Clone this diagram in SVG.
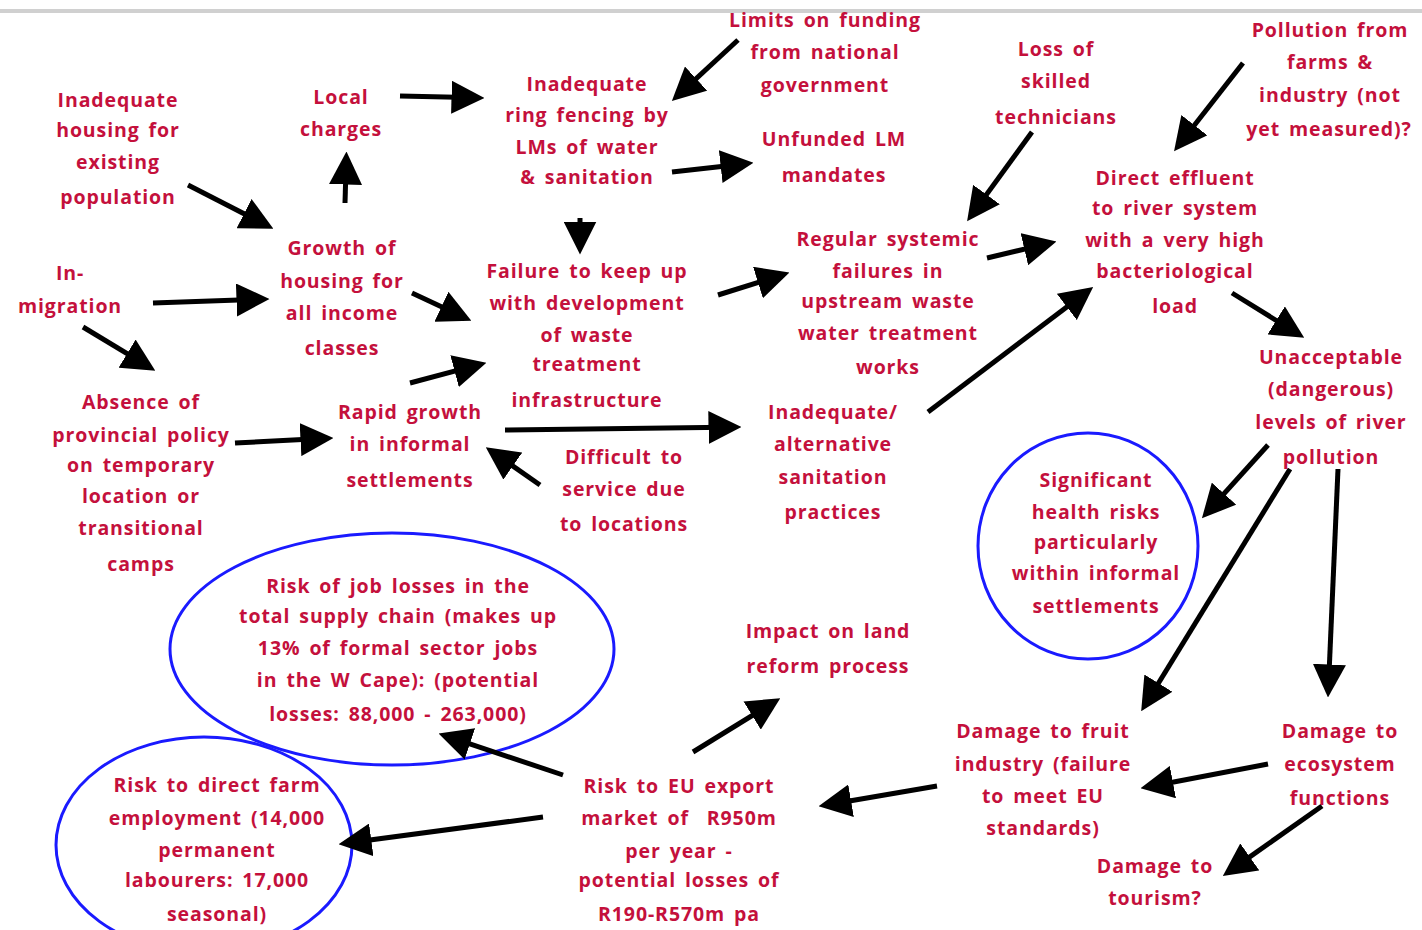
<svg xmlns="http://www.w3.org/2000/svg" width="1422" height="930" viewBox="0 0 1422 930">
<defs>
<style>
text{font-family:"Open Sans","DejaVu Sans",sans-serif;font-size:19.5px;font-weight:700;fill:#c4103c;text-anchor:middle;letter-spacing:0.9px;word-spacing:3px}
.c line{stroke:#000;stroke-width:5;marker-end:url(#ah)}
.ring{fill:none;stroke:#1a1aff;stroke-width:3}
</style>
<marker id="ah" viewBox="0 0 10 10" refX="5" refY="5" markerWidth="6.6" markerHeight="6.6" markerUnits="strokeWidth" orient="auto">
<path d="M0,0 L10,5 L0,10 z" fill="#000"/>
</marker>
</defs>
<rect width="1422" height="930" fill="#fff"/>
<line x1="0" y1="11" x2="1422" y2="11" stroke="#d0d0d0" stroke-width="4"/>

<g id="ellipses">
<ellipse class="ring" cx="1088" cy="546" rx="110" ry="113"/>
<ellipse class="ring" cx="392" cy="649" rx="222" ry="116"/>
<ellipse class="ring" cx="204" cy="845" rx="148" ry="108"/>
</g>

<g class="c" id="connectors">
<line x1="188" y1="185" x2="258.7" y2="221.2"/>
<line x1="345" y1="203" x2="346" y2="168"/>
<line x1="400" y1="96" x2="468" y2="97.6"/>
<line x1="153" y1="303" x2="253" y2="299.5"/>
<line x1="83" y1="327" x2="141.2" y2="362.2"/>
<line x1="412" y1="293" x2="456.4" y2="313.7"/>
<line x1="410" y1="383" x2="470.5" y2="366.9"/>
<line x1="738" y1="40" x2="684" y2="89.8"/>
<line x1="672" y1="172" x2="737.1" y2="164.7"/>
<line x1="580" y1="218" x2="580" y2="238"/>
<line x1="718" y1="295" x2="773.7" y2="277.5"/>
<line x1="987" y1="258" x2="1040.4" y2="245.4"/>
<line x1="1032" y1="132" x2="976.8" y2="207.9"/>
<line x1="1243" y1="63" x2="1184.2" y2="138.2"/>
<line x1="928" y1="412" x2="1080" y2="297"/>
<line x1="1232" y1="293" x2="1290.2" y2="329.1"/>
<line x1="505" y1="430" x2="725" y2="427.2"/>
<line x1="235" y1="443" x2="317" y2="438.8"/>
<line x1="540" y1="485" x2="499.3" y2="456.6"/>
<line x1="1268" y1="445" x2="1213" y2="505.9"/>
<line x1="1290" y1="469" x2="1149.8" y2="697.2"/>
<line x1="1338" y1="469" x2="1328.7" y2="681"/>
<line x1="1268" y1="764" x2="1156.7" y2="785.2"/>
<line x1="1322" y1="806" x2="1236.3" y2="866.4"/>
<line x1="937" y1="786" x2="834.8" y2="803.5"/>
<line x1="693" y1="752" x2="766.2" y2="706.9"/>
<line x1="563" y1="775" x2="454.2" y2="738.7"/>
<line x1="543" y1="817" x2="354.9" y2="842"/>
</g>

<g id="n-housing"><text x="118" y="107">Inadequate</text><text x="118" y="137">housing for</text><text x="118" y="169">existing</text><text x="118" y="204">population</text></g>
<g id="n-local"><text x="341" y="104">Local</text><text x="341" y="136">charges</text></g>
<g id="n-inmig"><text x="70" y="280">In-</text><text x="70" y="313">migration</text></g>
<g id="n-growth"><text x="342" y="255">Growth of</text><text x="342" y="288">housing for</text><text x="342" y="320">all income</text><text x="342" y="355">classes</text></g>
<g id="n-ring"><text x="587" y="91">Inadequate</text><text x="587" y="122">ring fencing by</text><text x="587" y="154">LMs of water</text><text x="587" y="184">&amp; sanitation</text></g>
<g id="n-limits"><text x="825" y="27">Limits on funding</text><text x="825" y="59">from national</text><text x="825" y="92">government</text></g>
<g id="n-unfunded"><text x="834" y="146">Unfunded LM</text><text x="834" y="182">mandates</text></g>
<g id="n-loss"><text x="1056" y="56">Loss of</text><text x="1056" y="88">skilled</text><text x="1056" y="124">technicians</text></g>
<g id="n-pollution"><text x="1330" y="37">Pollution from</text><text x="1330" y="69">farms &amp;</text><text x="1330" y="102">industry (not</text><text x="1329" y="136">yet measured)?</text></g>
<g id="n-effluent"><text x="1175" y="185">Direct effluent</text><text x="1175" y="215">to river system</text><text x="1175" y="247">with a very high</text><text x="1175" y="278">bacteriological</text><text x="1175" y="313">load</text></g>
<g id="n-regular"><text x="888" y="246">Regular systemic</text><text x="888" y="278">failures in</text><text x="888" y="308">upstream waste</text><text x="888" y="340">water treatment</text><text x="888" y="374">works</text></g>
<g id="n-failure"><text x="587" y="278">Failure to keep up</text><text x="587" y="310">with development</text><text x="587" y="342">of waste</text><text x="587" y="371">treatment</text><text x="587" y="407">infrastructure</text></g>
<g id="n-rapid"><text x="410" y="419">Rapid growth</text><text x="410" y="451">in informal</text><text x="410" y="487">settlements</text></g>
<g id="n-absence"><text x="141" y="409">Absence of</text><text x="141" y="442">provincial policy</text><text x="141" y="472">on temporary</text><text x="141" y="503">location or</text><text x="141" y="535">transitional</text><text x="141" y="571">camps</text></g>
<g id="n-difficult"><text x="624" y="464">Difficult to</text><text x="624" y="496">service due</text><text x="624" y="531">to locations</text></g>
<g id="n-sanitation"><text x="833" y="419">Inadequate/</text><text x="833" y="451">alternative</text><text x="833" y="484">sanitation</text><text x="833" y="519">practices</text></g>
<g id="n-unacceptable"><text x="1331" y="364">Unacceptable</text><text x="1331" y="396">(dangerous)</text><text x="1331" y="429">levels of river</text><text x="1331" y="464">pollution</text></g>
<g id="n-health"><text x="1096" y="487">Significant</text><text x="1096" y="519">health risks</text><text x="1096" y="549">particularly</text><text x="1096" y="580">within informal</text><text x="1096" y="613">settlements</text></g>
<g id="n-jobloss"><text x="398" y="593">Risk of job losses in the</text><text x="398" y="623">total supply chain (makes up</text><text x="398" y="655">13% of formal sector jobs</text><text x="398" y="687">in the W Cape): (potential</text><text x="398" y="721">losses: 88,000 - 263,000)</text></g>
<g id="n-farm"><text x="217" y="792">Risk to direct farm</text><text x="217" y="825">employment (14,000</text><text x="217" y="857">permanent</text><text x="217" y="887">labourers: 17,000</text><text x="217" y="921">seasonal)</text></g>
<g id="n-land"><text x="828" y="638">Impact on land</text><text x="828" y="673">reform process</text></g>
<g id="n-eu"><text x="679" y="793">Risk to EU export</text><text x="679" y="825">market of&#160; R950m</text><text x="679" y="858">per year -</text><text x="679" y="887">potential losses of</text><text x="679" y="921">R190-R570m pa</text></g>
<g id="n-fruit"><text x="1043" y="738">Damage to fruit</text><text x="1043" y="771">industry (failure</text><text x="1043" y="803">to meet EU</text><text x="1043" y="835">standards)</text></g>
<g id="n-ecosystem"><text x="1340" y="738">Damage to</text><text x="1340" y="771">ecosystem</text><text x="1340" y="805">functions</text></g>
<g id="n-tourism"><text x="1155" y="873">Damage to</text><text x="1155" y="905">tourism?</text></g>
</svg>
